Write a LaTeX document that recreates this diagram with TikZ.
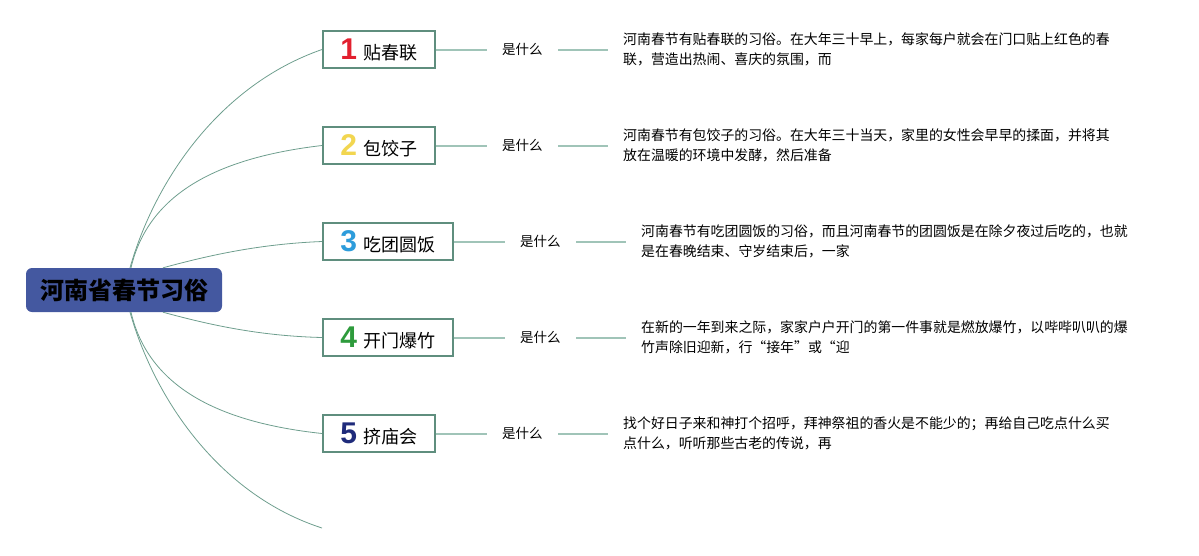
\documentclass[tikz,border=0pt]{standalone}
\usepackage{fontspec}
\setmainfont{Noto Sans CJK SC}
\newfontfamily\digitfont{Liberation Sans}
\usepackage{xcolor}
\usetikzlibrary{positioning, calc}

\definecolor{rootblue}{HTML}{4458A0}
\definecolor{boxgreen}{HTML}{5F8E7E}
\definecolor{curvegreen}{HTML}{6E9E8E}
\definecolor{linkgreen}{HTML}{A0C4B8}
\definecolor{numred}{HTML}{E2202F}
\definecolor{numyellow}{HTML}{F2D650}
\definecolor{numblue}{HTML}{2D9CDB}
\definecolor{numgreen}{HTML}{2E9B3C}
\definecolor{numnavy}{HTML}{1F2B7B}

\newcommand{\topicnum}[2]{\textcolor{#1}{\digitfont\bfseries\fontsize{30}{30}\selectfont #2}\hspace{6pt}}

\tikzset{
    root/.style={fill=rootblue, rounded corners=6pt, minimum width=196pt, minimum height=44pt,
        font=\fontsize{24}{24}\selectfont\bfseries},
    topic/.style={draw=boxgreen, line width=1.6pt, fill=white, minimum height=37pt,
        minimum width=112pt, anchor=west, font=\fontsize{18}{18}\selectfont},
    widetopic/.style={topic, minimum width=130pt},
    ask/.style={minimum width=71pt, inner sep=0pt, font=\fontsize{13.5}{13.5}\selectfont},
    desc/.style={align=left, inner xsep=15pt, inner ysep=0pt, font=\fontsize{13.9}{20.5}\selectfont},
    branch/.style={draw=curvegreen, line width=0.8pt},
    link/.style={draw=linkgreen, line width=2pt}
}

\begin{document}
\begin{tikzpicture}[x=1pt, y=-1pt]
    \useasboundingbox (0,0) rectangle (1199,555);

    % Central topic
    \node[root] (root) at (124,290) {河南省春节习俗};

    % Main topics
    \node[topic] (b1) at (322,49.5) {\topicnum{numred}{1}贴春联};
    \node[topic] (b2) at (322,145.5) {\topicnum{numyellow}{2}包饺子};
    \node[widetopic] (b3) at (322,241.5) {\topicnum{numblue}{3}吃团圆饭};
    \node[widetopic] (b4) at (322,337.5) {\topicnum{numgreen}{4}开门爆竹};
    \node[topic] (b5) at (322,433.5) {\topicnum{numnavy}{5}挤庙会};
    \coordinate (b6) at (322,528);

    % Branches from the central topic
    \draw[branch] ($(root.north)+(6,0)$) .. controls (155,180) and (220,85) .. (b1.west);
    \draw[branch] ($(root.north)+(7,0)$) .. controls (148,195) and (215,158) .. (b2.west);
    \draw[branch] ($(root.north)+(39,0)$) .. controls (210,255) and (260,244) .. (b3.west);
    \draw[branch] ($(root.south)+(39,0)$) .. controls (210,325) and (260,336) .. (b4.west);
    \draw[branch] ($(root.south)+(7,0)$) .. controls (148,385) and (215,422) .. (b5.west);
    \draw[branch] ($(root.south)+(6,0)$) .. controls (155,400) and (220,495) .. (b6);

    % "What is it" labels
    \node[ask, right=51pt of b1] (w1) {是什么};
    \node[ask, right=51pt of b2] (w2) {是什么};
    \node[ask, right=51pt of b3] (w3) {是什么};
    \node[ask, right=51pt of b4] (w4) {是什么};
    \node[ask, right=51pt of b5] (w5) {是什么};

    % Descriptions
    \node[desc, right=50pt of w1] (d1) {河南春节有贴春联的习俗。在大年三十早上，每家每户就会在门口贴上红色的春\\联，营造出热闹、喜庆的氛围，而};
    \node[desc, right=50pt of w2] (d2) {河南春节有包饺子的习俗。在大年三十当天，家里的女性会早早的揉面，并将其\\放在温暖的环境中发酵，然后准备};
    \node[desc, right=50pt of w3] (d3) {河南春节有吃团圆饭的习俗，而且河南春节的团圆饭是在除夕夜过后吃的，也就\\是在春晚结束、守岁结束后，一家};
    \node[desc, right=50pt of w4] (d4) {在新的一年到来之际，家家户户开门的第一件事就是燃放爆竹，以哔哔叭叭的爆\\竹声除旧迎新，行“接年”或“迎};
    \node[desc, right=50pt of w5] (d5) {找个好日子来和神打个招呼，拜神祭祖的香火是不能少的；再给自己吃点什么买\\点什么，听听那些古老的传说，再};

    % Links
    \draw[link] (b1.east) -- (w1.west);
    \draw[link] (w1.east) -- (d1.west);
    \draw[link] (b2.east) -- (w2.west);
    \draw[link] (w2.east) -- (d2.west);
    \draw[link] (b3.east) -- (w3.west);
    \draw[link] (w3.east) -- (d3.west);
    \draw[link] (b4.east) -- (w4.west);
    \draw[link] (w4.east) -- (d4.west);
    \draw[link] (b5.east) -- (w5.west);
    \draw[link] (w5.east) -- (d5.west);
\end{tikzpicture}
\end{document}
